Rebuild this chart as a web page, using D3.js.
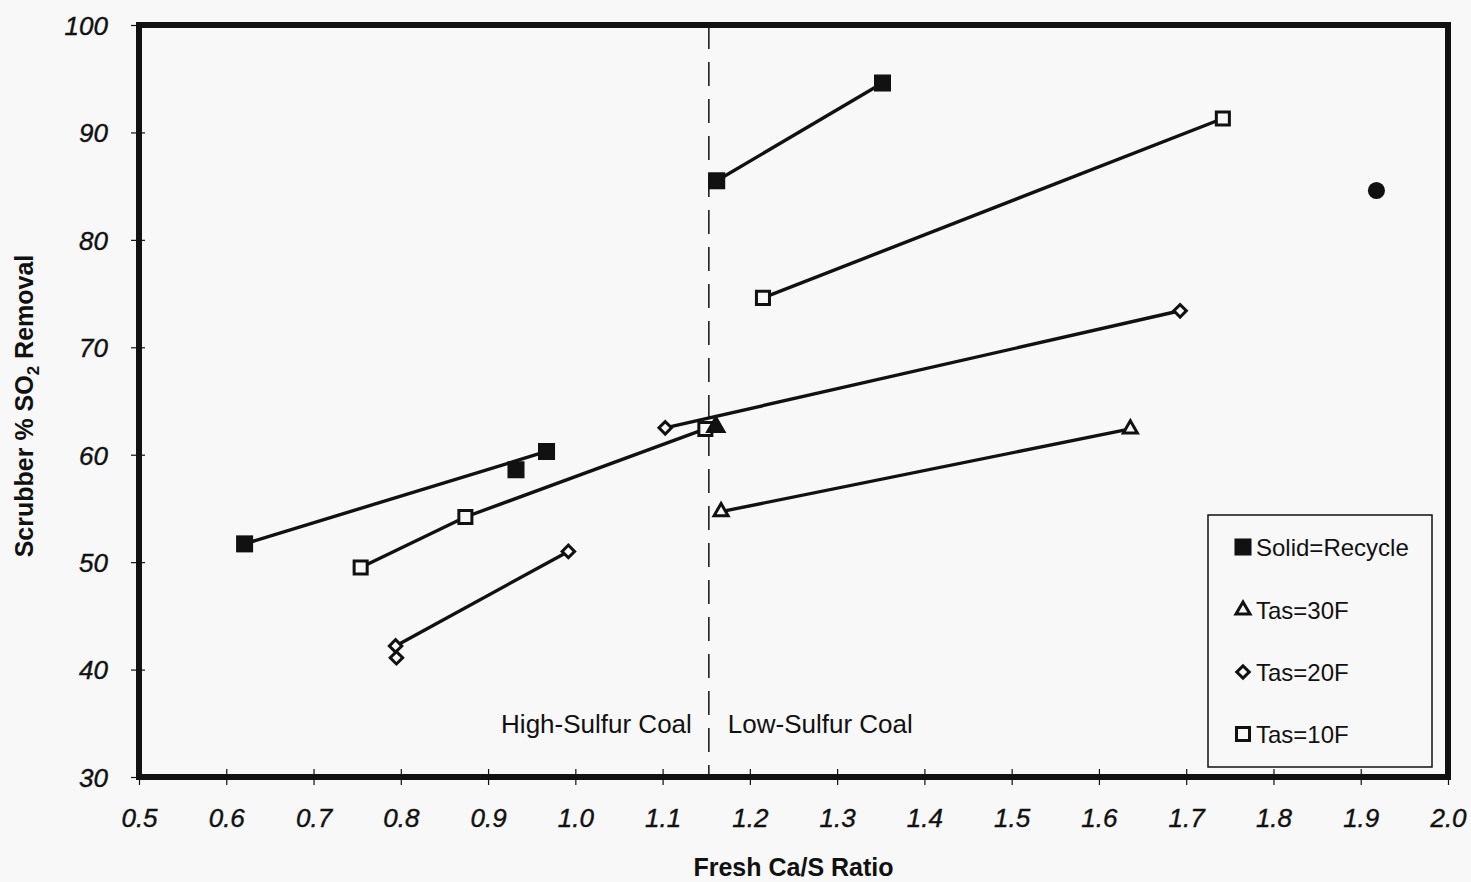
<!DOCTYPE html>
<html>
<head>
<meta charset="utf-8">
<script src="https://cdn.jsdelivr.net/npm/d3@7"></script>
<style>
  html, body { margin: 0; padding: 0; background: #f8f8f8; }
  svg { display: block; }
</style>
</head>
<body>
<svg id="chart" width="1471" height="882"></svg>
<script>
// ---- Data ----
const xTicks = [0.5, 0.6, 0.7, 0.8, 0.9, 1.0, 1.1, 1.2, 1.3, 1.4, 1.5, 1.6, 1.7, 1.8, 1.9, 2.0];
const yTicks = [30, 40, 50, 60, 70, 80, 90, 100];

// Solid = Recycle (filled squares)
const recycleX = [0.621, 0.932, 0.967, 1.162, 1.352];
const recycleY = [51.7, 58.6, 60.3, 85.5, 94.6];
const recycleLines = [[0, 2], [3, 4]];

// Recycle at Tas=30F (filled triangle)
const recycle30X = [1.161];
const recycle30Y = [62.6];

// Filled circle
const circleX = [1.918];
const circleY = [84.6];

// Tas=30F (open triangles)
const tas30X = [1.167, 1.636];
const tas30Y = [54.7, 62.4];
const tas30Lines = [[0, 1]];

// Tas=20F (open diamonds)
const tas20X = [0.794, 0.795, 0.992, 1.103, 1.693];
const tas20Y = [42.2, 41.1, 51.0, 62.5, 73.4];
const tas20Lines = [[0, 2], [3, 4]];

// Tas=10F (open squares)
const tas10X = [0.754, 0.874, 1.149, 1.215, 1.742];
const tas10Y = [49.5, 54.2, 62.4, 74.6, 91.3];
const tas10Lines = [[0, 1, 2], [3, 4]];

const dividerX = 1.153;
const legendLabels = ["Solid=Recycle", "Tas=30F", "Tas=20F", "Tas=10F"];
const annotations = [
  { text: "High-Sulfur Coal", side: "left" },
  { text: "Low-Sulfur Coal", side: "right" }
];
const annotationY = 34.1;

// ---- Layout ----
const mLeft = 139, mRight = 1448, mTop = 25, mBottom = 777;
const svg = d3.select("#chart");
const x = d3.scaleLinear().domain([0.5, 2.0]).range([mLeft, mRight]);
const y = d3.scaleLinear().domain([30, 100]).range([mBottom, mTop]);
const ink = "#111";
const bg = "#f8f8f8";
const font = "'Liberation Sans', Arial, sans-serif";

// Axes
const xAxis = svg.append("g").attr("transform", `translate(0,${mBottom})`)
  .call(d3.axisBottom(x).tickValues(xTicks).tickFormat(d3.format(".1f")).tickSize(8).tickSizeOuter(0));
xAxis.select(".domain").remove();
xAxis.selectAll(".tick line").attr("y1", -8).attr("y2", 8).attr("stroke", ink).attr("stroke-width", 1.2);
xAxis.selectAll(".tick text")
  .attr("y", 50).attr("dy", 0)
  .attr("font-family", font)
  .attr("font-style", "italic").attr("font-size", 26).attr("fill", ink)
  .attr("stroke", ink).attr("stroke-width", 0.4);

const yAxis = svg.append("g").attr("transform", `translate(${mLeft},0)`)
  .call(d3.axisLeft(y).tickValues(yTicks).tickFormat(d3.format("d")).tickSize(8).tickSizeOuter(0));
yAxis.select(".domain").remove();
yAxis.selectAll(".tick line").attr("x1", -8).attr("x2", 6).attr("stroke", ink).attr("stroke-width", 1.2);
yAxis.selectAll(".tick text")
  .attr("x", -31).attr("dy", "0.36em")
  .attr("font-family", font)
  .attr("font-style", "italic").attr("font-size", 26).attr("fill", ink)
  .attr("stroke", ink).attr("stroke-width", 0.4);

// Divider (dashed)
svg.append("line")
  .attr("x1", x(dividerX)).attr("x2", x(dividerX))
  .attr("y1", y(100)).attr("y2", y(30))
  .attr("stroke", ink).attr("stroke-width", 1.5)
  .attr("stroke-dasharray", "24,13");

// Annotations
svg.selectAll("text.annot").data(annotations).join("text")
  .attr("class", "annot")
  .attr("x", d => d.side === "left" ? x(dividerX) - 17 : x(dividerX) + 19)
  .attr("y", y(annotationY))
  .attr("text-anchor", d => d.side === "left" ? "end" : "start")
  .attr("font-family", font)
  .attr("font-size", 26).attr("fill", ink)
  .text(d => d.text);

// Series lines
const line = d3.line().x(d => x(d[0])).y(d => y(d[1]));
function drawLines(xs, ys, groups) {
  groups.forEach(g => {
    svg.append("path")
      .datum(g.map(i => [xs[i], ys[i]]))
      .attr("d", line)
      .attr("fill", "none").attr("stroke", ink).attr("stroke-width", 3.4);
  });
}
drawLines(recycleX, recycleY, recycleLines);
drawLines(tas10X, tas10Y, tas10Lines);
drawLines(tas20X, tas20Y, tas20Lines);
drawLines(tas30X, tas30Y, tas30Lines);

// Markers
const sym = {
  filledSquare: { type: d3.symbolSquare, size: 290, fill: ink, stroke: "none", sw: 0, rot: 0 },
  openSquare: { type: d3.symbolSquare, size: 170, fill: bg, stroke: ink, sw: 3, rot: 0 },
  openDiamond: { type: d3.symbolSquare, size: 78, fill: bg, stroke: ink, sw: 3, rot: 45 },
  openTriangle: { type: d3.symbolTriangle, size: 85, fill: bg, stroke: ink, sw: 3, rot: 0 },
  filledTriangle: { type: d3.symbolTriangle, size: 150, fill: ink, stroke: ink, sw: 1.5, rot: 0 },
  filledCircle: { type: d3.symbolCircle, size: 230, fill: ink, stroke: "none", sw: 0, rot: 0 }
};
function drawMarkers(xs, ys, s) {
  const st = sym[s];
  svg.append("g").selectAll("path").data(xs.map((v, i) => [v, ys[i]])).join("path")
    .attr("transform", d => `translate(${x(d[0])},${y(d[1])}) rotate(${st.rot})`)
    .attr("d", d3.symbol().type(st.type).size(st.size))
    .attr("fill", st.fill).attr("stroke", st.stroke).attr("stroke-width", st.sw);
}
drawMarkers(tas10X, tas10Y, "openSquare");
drawMarkers(tas20X, tas20Y, "openDiamond");
drawMarkers(tas30X, tas30Y, "openTriangle");
drawMarkers(recycleX, recycleY, "filledSquare");
drawMarkers(recycle30X, recycle30Y, "filledTriangle");
drawMarkers(circleX, circleY, "filledCircle");

// Frame
svg.append("rect")
  .attr("x", mLeft).attr("y", mTop)
  .attr("width", mRight - mLeft).attr("height", mBottom - mTop)
  .attr("fill", "none").attr("stroke", ink).attr("stroke-width", 6);

// Legend
const legend = svg.append("g");
legend.append("rect")
  .attr("x", 1208).attr("y", 515).attr("width", 224).attr("height", 252)
  .attr("fill", bg).attr("stroke", ink).attr("stroke-width", 1.5);
const legendSyms = ["filledSquare", "openTriangle", "openDiamond", "openSquare"];
const legendYs = [547, 610, 672, 734];
legendLabels.forEach((lab, i) => {
  const st = sym[legendSyms[i]];
  legend.append("path")
    .attr("transform", `translate(1243,${legendYs[i]}) rotate(${st.rot})`)
    .attr("d", d3.symbol().type(st.type).size(st.size))
    .attr("fill", st.fill).attr("stroke", st.stroke).attr("stroke-width", st.sw);
  legend.append("text")
    .attr("x", 1256).attr("y", legendYs[i]).attr("dy", "0.36em")
    .attr("font-family", font)
    .attr("font-size", 24).attr("fill", ink)
    .text(lab);
});

// Axis titles
svg.append("text")
  .attr("x", (mLeft + mRight) / 2).attr("y", 876)
  .attr("text-anchor", "middle")
  .attr("font-family", font)
  .attr("font-weight", "bold").attr("font-size", 25).attr("fill", ink)
  .text("Fresh Ca/S Ratio");

const yt = svg.append("text")
  .attr("transform", `translate(33,406) rotate(-90)`)
  .attr("text-anchor", "middle")
  .attr("font-family", font)
  .attr("font-weight", "bold").attr("font-size", 25).attr("fill", ink);
yt.append("tspan").text("Scrubber % SO");
yt.append("tspan").attr("font-size", 17).attr("dy", 6).text("2");
yt.append("tspan").attr("dy", -6).text(" Removal");
</script>
</body>
</html>
